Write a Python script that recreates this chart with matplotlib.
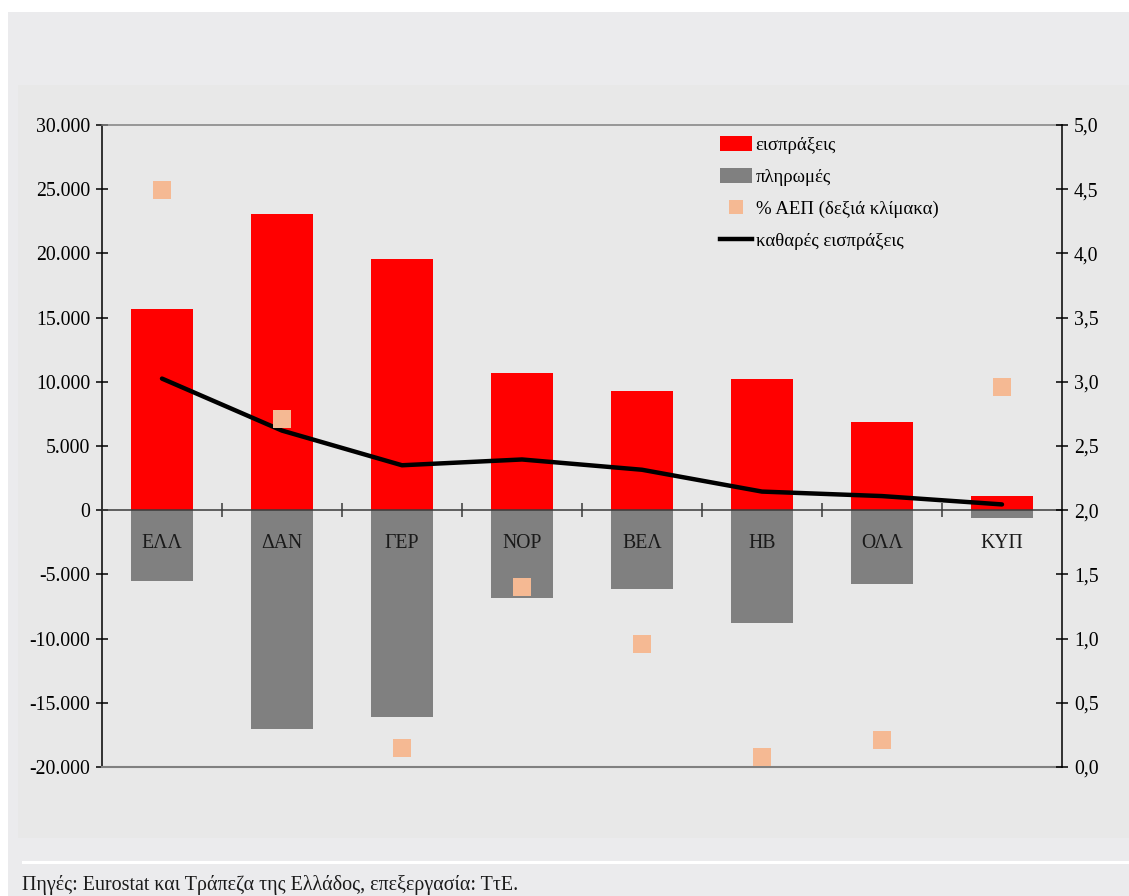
import matplotlib
matplotlib.use("Agg")
import matplotlib.pyplot as plt
from matplotlib.patches import Rectangle, Patch
from matplotlib.lines import Line2D
from matplotlib.ticker import FuncFormatter, MultipleLocator, FixedLocator

plt.rcParams['font.family'] = ['Liberation Serif', 'DejaVu Serif']

countries = ['ΕΛΛ', 'ΔΑΝ', 'ΓΕΡ', 'ΝΟΡ', 'ΒΕΛ', 'ΗΒ', 'ΟΛΛ', 'ΚΥΠ']
receipts = [15700, 23100, 19600, 10700, 9300, 10200, 6900, 1100]
payments = [-5500, -17050, -16100, -6800, -6150, -8800, -5750, -600]
net_receipts = [10250, 6200, 3500, 3950, 3150, 1450, 1100, 450]
pct_gdp = [4.49, 2.71, 0.15, 1.40, 0.96, 0.08, 0.21, 2.96]

labels = ['εισπράξεις', 'πληρωμές', '% ΑΕΠ (δεξιά κλίμακα)', 'καθαρές εισπράξεις']
source = 'Πηγές: Eurostat και Τράπεζα της Ελλάδος, επεξεργασία: ΤτΕ.'

RED = '#FF0000'
GREY = '#808080'
PEACH = '#F5B993'

W, H = 1129, 896
fig = plt.figure(figsize=(W / 100, H / 100), dpi=100, facecolor='white')

# background panels
fig.add_artist(Rectangle((8 / W, 0), 1, 1 - 12 / H, transform=fig.transFigure,
                         facecolor='#EBEBED', edgecolor='none', zorder=-10))
fig.add_artist(Rectangle((18 / W, 1 - 838 / H), 1, (838 - 85) / H, transform=fig.transFigure,
                         facecolor='#E8E8E8', edgecolor='none', zorder=-9))
fig.add_artist(Rectangle((22 / W, 1 - 864 / H), 1, 3 / H, transform=fig.transFigure,
                         facecolor='white', edgecolor='none', zorder=-8))

ax = fig.add_axes([102 / W, 1 - 767 / H, (1062 - 102) / W, (767 - 125) / H])
ax.set_facecolor('none')
x = list(range(len(countries)))

ax.bar(x, receipts, width=0.51, color=RED, zorder=1)
ax.bar(x, payments, width=0.51, color=GREY, zorder=1)
ax.plot(x, net_receipts, color='black', lw=3.2, solid_capstyle='round', zorder=4)

ax.set_xlim(-0.5, len(countries) - 0.5)
ax.set_ylim(-20000, 30000)
ax.yaxis.set_major_locator(MultipleLocator(5000))
ax.yaxis.set_major_formatter(FuncFormatter(lambda v, p: f"{int(v):,}".replace(',', '.')))
ax.tick_params(axis='y', direction='inout', length=9, width=1.1, color='black',
               labelsize=14.2, pad=4)

ax.spines['bottom'].set_position(('data', 0))
ax.spines['bottom'].set_color('#3a3a3a')
ax.spines['bottom'].set_linewidth(1.1)
ax.spines['bottom'].set_zorder(3)
ax.spines['top'].set_color(GREY)
ax.spines['top'].set_linewidth(1.1)
ax.spines['left'].set_color('black')
ax.spines['left'].set_linewidth(1.1)
ax.spines['right'].set_visible(False)
ax.axhline(-20000, color=GREY, lw=1.5, clip_on=False, zorder=3)

ax.xaxis.set_major_locator(FixedLocator(x))
ax.xaxis.set_minor_locator(FixedLocator([i + 0.5 for i in x[:-1]]))
ax.set_xticklabels(countries)
ax.tick_params(axis='x', which='major', length=0, labelsize=14.2, pad=17, labelcolor='#1a1a1a')
ax.tick_params(axis='x', which='minor', direction='inout', length=10, width=1.1, color='#3a3a3a')

ax2 = ax.twinx()
ax2.plot(x, pct_gdp, linestyle='none', marker='s', ms=13, mew=0, color=PEACH, zorder=5)
ax2.set_ylim(0, 5)
ax2.yaxis.set_major_locator(MultipleLocator(0.5))
ax2.yaxis.set_major_formatter(FuncFormatter(lambda v, p: f"{v:.1f}".replace('.', ',')))
ax2.tick_params(axis='y', direction='inout', length=9, width=1.1, color='black',
                labelsize=14.2, pad=4)
for s in ['top', 'bottom', 'left']:
    ax2.spines[s].set_visible(False)
ax2.spines['right'].set_color('black')
ax2.spines['right'].set_linewidth(1.1)

handles = [
    Patch(facecolor=RED, edgecolor='none'),
    Patch(facecolor=GREY, edgecolor='none'),
    Line2D([], [], linestyle='none', marker='s', ms=10, mew=0, color=PEACH),
    Line2D([], [], color='black', lw=3.2),
]
ax2.legend(handles, labels, loc='upper left', bbox_to_anchor=(720 / W, 1 - 136 / H),
           bbox_transform=fig.transFigure, frameon=False, fontsize=13.5,
           handlelength=1.7, handleheight=0.85, handletextpad=0.2,
           labelspacing=0.75, borderpad=0, borderaxespad=0)

fig.text(22 / W, 1 - 885 / H, source, fontsize=14.4, va='center', ha='left', color='#1a1a1a')

fig.savefig('out.png', dpi=100, facecolor='white')
